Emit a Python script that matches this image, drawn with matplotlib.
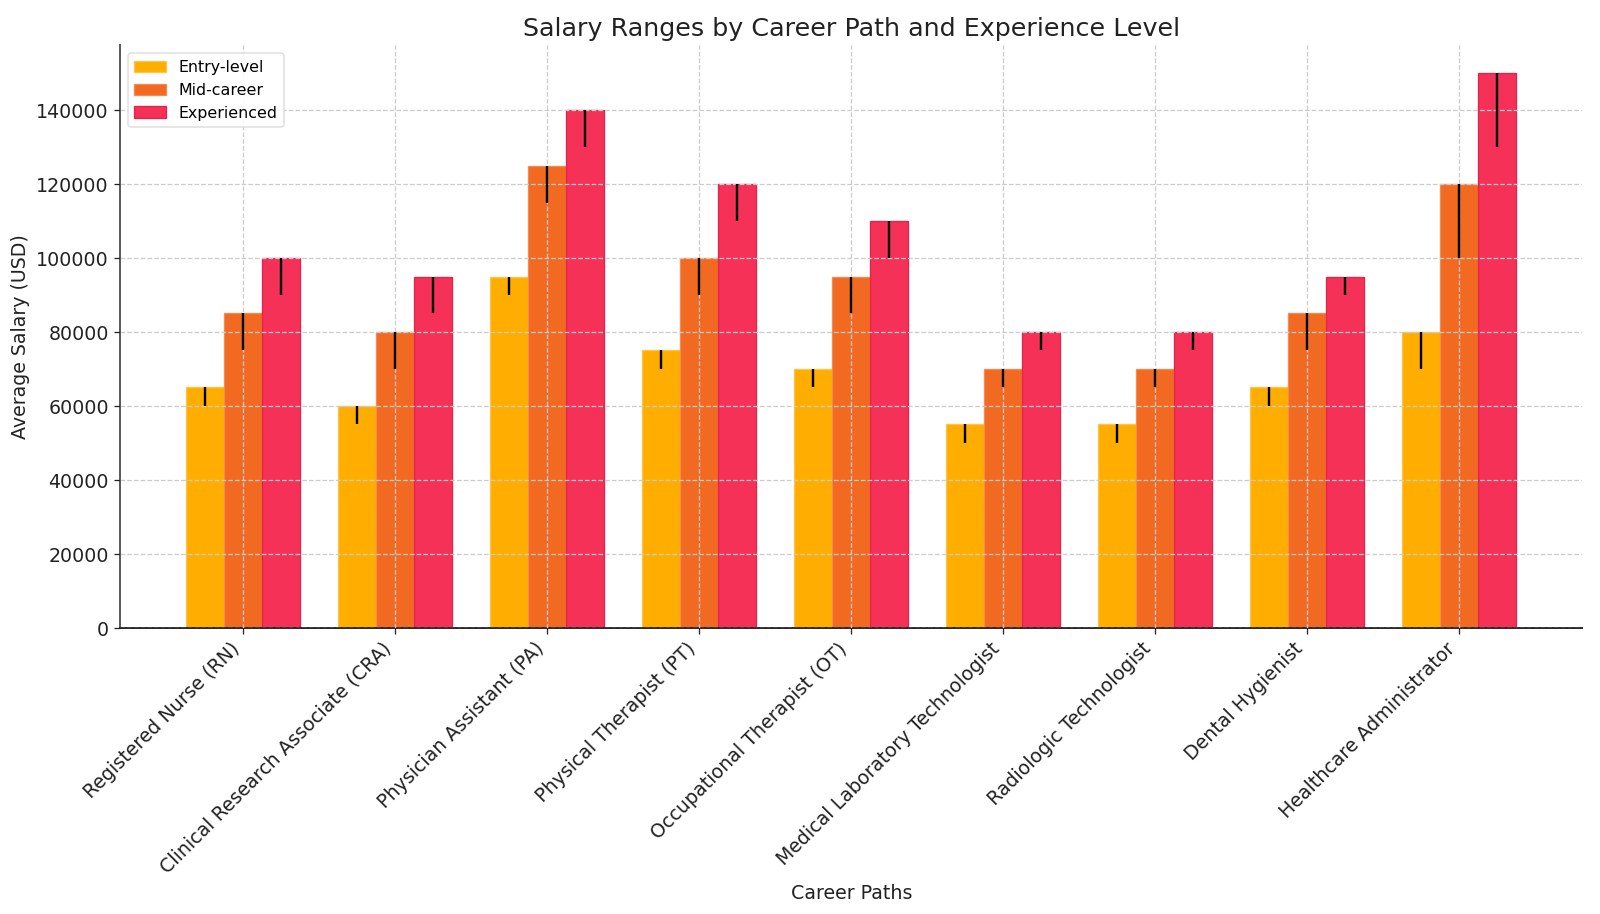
import matplotlib.pyplot as plt
import numpy as np

# --- данные ---
careers = ["Registered Nurse (RN)", "Clinical Research Associate (CRA)",
           "Physician Assistant (PA)", "Physical Therapist (PT)",
           "Occupational Therapist (OT)", "Medical Laboratory Technologist",
           "Radiologic Technologist", "Dental Hygienist", "Healthcare Administrator"]
levels = ["Entry-level", "Mid-career", "Experienced"]

entry_avg = [65000, 60000, 95000, 75000, 70000, 55000, 55000, 65000, 80000]
mid_avg = [85000, 80000, 125000, 100000, 95000, 70000, 70000, 85000, 120000]
exp_avg = [100000, 95000, 140000, 120000, 110000, 80000, 80000, 95000, 150000]

entry_min = [60000, 55000, 90000, 70000, 65000, 50000, 50000, 60000, 70000]
mid_min = [75000, 70000, 115000, 90000, 85000, 65000, 65000, 75000, 100000]
exp_min = [90000, 85000, 130000, 110000, 100000, 75000, 75000, 90000, 130000]

colors = ["#FFAE00", "#F26A22", "#F53157"]
edges = ["#FFC44D", "#F58A4F", "#E8204A"]

# 14x8 дюймов при dpi 114.29 -> 1600x914
fig, ax = plt.subplots(figsize=(14, 8), dpi=114.29)

x = np.arange(len(careers))
width = 0.25

series = [(entry_avg, entry_min), (mid_avg, mid_min), (exp_avg, exp_min)]
for i, (avg, mn) in enumerate(series):
    avg = np.array(avg)
    lower = avg - np.array(mn)
    yerr = [lower, np.zeros_like(lower)]
    ax.bar(x + (i - 1) * width, avg, width, yerr=yerr, label=levels[i],
           color=colors[i], edgecolor=edges[i], linewidth=0.8, zorder=1,
           error_kw={'elinewidth': 1.5, 'ecolor': 'black', 'capsize': 0, 'zorder': 3})

ax.set_title("Salary Ranges by Career Path and Experience Level", fontsize=16, color='#222222')
ax.set_xlabel("Career Paths", fontsize=12, color='#222222')
ax.set_ylabel("Average Salary (USD)", fontsize=12, color='#222222')
ax.set_xticks(x)
ax.set_xticklabels(careers, rotation=45, ha='right', fontsize=12)
ax.tick_params(axis='y', labelsize=12)
ax.tick_params(colors='#222222')

ax.grid(True, linestyle='--', color='#cccccc', linewidth=0.8, zorder=2)
ax.set_axisbelow(False)
ax.spines['top'].set_visible(False)
ax.spines['right'].set_visible(False)
ax.spines['left'].set_color('#555555')
ax.spines['bottom'].set_color('#222222')
ax.spines['left'].set_linewidth(1.2)
ax.spines['bottom'].set_linewidth(1.2)

ax.legend(loc='upper left', fontsize=10, framealpha=0.9, edgecolor='#dddddd')

plt.subplots_adjust(left=0.075, right=0.989, top=0.95, bottom=0.313)
plt.savefig('out.png', dpi=114.29)
